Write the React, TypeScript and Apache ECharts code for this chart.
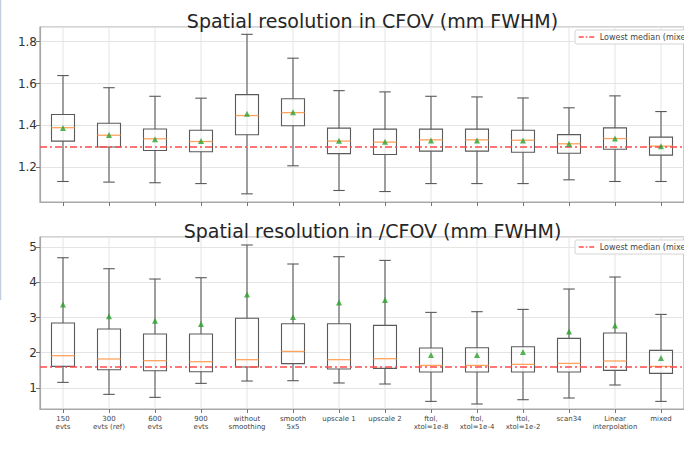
import React, { useEffect, useRef } from "react";
import * as echarts from "echarts";

const categories = [
  "150\nevts", "300\nevts (ref)", "600\nevts", "900\nevts", "without\nsmoothing", "smooth\n5x5",
  "upscale 1", "upscale 2", "ftol,\nxtol=1e-8", "ftol,\nxtol=1e-4", "ftol,\nxtol=1e-2", "scan34",
  "Linear\ninterpolation", "mixed",
];

const topTitle = "Spatial resolution in CFOV (mm FWHM)";
const bottomTitle = "Spatial resolution in /CFOV (mm FWHM)";
const legendName = "Lowest median (mixed)";

const topMin = [1.132, 1.129, 1.126, 1.122, 1.073, 1.207, 1.089, 1.084, 1.122, 1.122, 1.122, 1.140, 1.132, 1.132];
const topQ1 = [1.325, 1.297, 1.280, 1.274, 1.355, 1.398, 1.265, 1.261, 1.277, 1.277, 1.272, 1.267, 1.286, 1.258];
const topMedian = [1.389, 1.353, 1.336, 1.323, 1.447, 1.461, 1.325, 1.320, 1.331, 1.331, 1.329, 1.312, 1.337, 1.301];
const topQ3 = [1.452, 1.410, 1.383, 1.377, 1.547, 1.527, 1.387, 1.382, 1.382, 1.382, 1.377, 1.356, 1.388, 1.344];
const topMax = [1.638, 1.580, 1.539, 1.530, 1.835, 1.721, 1.566, 1.560, 1.539, 1.536, 1.531, 1.484, 1.541, 1.466];
const topMean = [1.387, 1.354, 1.334, 1.325, 1.456, 1.463, 1.327, 1.322, 1.328, 1.328, 1.328, 1.312, 1.337, 1.300];

const botMin = [1.159, 0.819, 0.734, 1.131, 1.198, 1.207, 1.142, 1.113, 0.620, 0.546, 0.668, 0.716, 1.085, 0.620];
const botQ1 = [1.613, 1.519, 1.491, 1.462, 1.596, 1.690, 1.539, 1.556, 1.454, 1.454, 1.454, 1.454, 1.500, 1.414];
const botMedian = [1.916, 1.823, 1.775, 1.746, 1.803, 2.038, 1.803, 1.831, 1.641, 1.641, 1.670, 1.698, 1.766, 1.612];
const botQ3 = [2.844, 2.674, 2.532, 2.532, 2.977, 2.824, 2.824, 2.776, 2.135, 2.143, 2.172, 2.408, 2.560, 2.067];
const botMax = [4.696, 4.384, 4.092, 4.129, 5.057, 4.518, 4.725, 4.620, 3.145, 3.165, 3.230, 3.808, 4.149, 3.088];
const botMean = [3.372, 3.032, 2.909, 2.815, 3.655, 3.014, 3.428, 3.496, 1.936, 1.936, 2.021, 2.606, 2.776, 1.851];

const topYRange = [1.034, 1.870];
const botYRange = [0.404, 5.284];

const FONT = "DejaVu Sans";
const BOX_COLOR = "#5a5a5a";
const MEDIAN_COLOR = "#ffa35c";
const MEAN_COLOR = "#2ca02c";
const RED = "#ff4a4a";
const GRID_COLOR = "#e4e4e4";
const FRAME_COLOR = "#a8a8a8";

function boxRenderItem(params: any, api: any) {
  const i = api.value(0);
  const band = api.size([1, 0])[0];
  const bw = band * 0.5;
  const cap = bw * 0.5;
  const cx = api.coord([i, api.value(1)])[0];
  const yMin = api.coord([i, api.value(1)])[1];
  const yQ1 = api.coord([i, api.value(2)])[1];
  const yMed = api.coord([i, api.value(3)])[1];
  const yQ3 = api.coord([i, api.value(4)])[1];
  const yMax = api.coord([i, api.value(5)])[1];
  const cs = params.coordSys;
  const st = { stroke: BOX_COLOR, lineWidth: 1.1, fill: null };
  return {
    type: "group",
    children: [
      { type: "line", shape: { x1: cx, y1: cs.y, x2: cx, y2: cs.y + cs.height }, style: { stroke: GRID_COLOR, lineWidth: 1 } },
      { type: "line", shape: { x1: cx, y1: yMin, x2: cx, y2: yQ1 }, style: st },
      { type: "line", shape: { x1: cx, y1: yQ3, x2: cx, y2: yMax }, style: st },
      { type: "line", shape: { x1: cx - cap / 2, y1: yMin, x2: cx + cap / 2, y2: yMin }, style: st },
      { type: "line", shape: { x1: cx - cap / 2, y1: yMax, x2: cx + cap / 2, y2: yMax }, style: st },
      { type: "rect", shape: { x: cx - bw / 2, y: yQ3, width: bw, height: yQ1 - yQ3 }, style: { stroke: BOX_COLOR, lineWidth: 1.1, fill: "none" } },
      { type: "line", shape: { x1: cx - bw / 2, y1: yMed, x2: cx + bw / 2, y2: yMed }, style: { stroke: MEDIAN_COLOR, lineWidth: 1.3 } },
    ],
  };
}

function makeBoxData(mn: number[], q1: number[], md: number[], q3: number[], mx: number[]) {
  return categories.map((_, i) => [i, mn[i], q1[i], md[i], q3[i], mx[i]]);
}

export default function App() {
  const ref = useRef<HTMLDivElement>(null);
  useEffect(() => {
    if (!ref.current) return;
    const chart = echarts.init(ref.current, null, { renderer: "svg" });
    const topLowest = Math.min(...topMedian);
    const botLowest = Math.min(...botMedian);
    const gridCommon = { left: 40, width: 655, show: true, borderColor: FRAME_COLOR, borderWidth: 1.2, backgroundColor: "transparent" };
    const xAxisCommon = (gi: number, showLabels: boolean) => ({
      type: "category",
      gridIndex: gi,
      data: categories,
      boundaryGap: true,
      axisLine: { show: true, lineStyle: { color: FRAME_COLOR, width: 1.2 } },
      axisTick: { show: true, alignWithLabel: true, length: 4, lineStyle: { color: "#777" } },
      axisLabel: {
        show: showLabels,
        interval: 0,
        fontFamily: FONT,
        fontSize: 7,
        lineHeight: 8,
        color: "#444",
        margin: 6,
        verticalAlign: "top",
      },
      splitLine: { show: false },
    });
    const yAxisCommon = (gi: number, range: number[]) => ({
      type: "value",
      gridIndex: gi,
      min: range[0],
      max: range[1],
      splitNumber: 5,
      axisLine: { show: true, lineStyle: { color: FRAME_COLOR, width: 1.2 } },
      axisTick: { show: true, length: 4, lineStyle: { color: "#777" } },
      axisLabel: {
        fontFamily: FONT,
        fontSize: 12,
        color: "#333",
        margin: 3,
        showMinLabel: false,
        showMaxLabel: false,
        formatter: (v: number) => (range[1] < 2 ? v.toFixed(1) : String(Math.round(v))),
      },
      splitLine: { show: true, lineStyle: { color: GRID_COLOR, width: 1 } },
    });
    const legendCommon = {
      data: [{ name: legendName }],
      left: 575,
      itemWidth: 16,
      itemHeight: 8,
      itemGap: 4,
      padding: [3, 4, 3, 3],
      backgroundColor: "#fff",
      borderColor: "#d4d4d4",
      borderWidth: 1,
      borderRadius: 2,
      itemStyle: { opacity: 0, color: "transparent", borderWidth: 0 },
      lineStyle: { color: RED, width: 1.5, type: [5, 2, 1.5, 2] },
      textStyle: { fontFamily: FONT, fontSize: 8, color: "#444" },
    };
    const redLineSeries = (gi: number, value: number) => ({
      type: "line",
      name: legendName,
      xAxisIndex: gi,
      yAxisIndex: gi,
      data: [],
      symbol: "none",
      lineStyle: { color: RED, width: 1.5, type: [7, 3, 2, 3] },
      itemStyle: { color: RED },
      markLine: {
        silent: true,
        symbol: "none",
        label: { show: false },
        lineStyle: { color: RED, width: 1.5, type: [7, 3, 2, 3] },
        data: [{ yAxis: value }],
      },
      z: 5,
    });
    const option: any = {
      animation: false,
      backgroundColor: "#fff",
      title: [
        { text: topTitle, left: 367.5, textAlign: "center", top: 6, textStyle: { fontFamily: FONT, fontSize: 19, fontWeight: "normal", color: "#262626", lineHeight: 19 } },
        { text: bottomTitle, left: 367.5, textAlign: "center", top: 216, textStyle: { fontFamily: FONT, fontSize: 19, fontWeight: "normal", color: "#262626", lineHeight: 19 } },
      ],
      legend: [
        { ...legendCommon, top: 30 },
        { ...legendCommon, top: 240 },
      ],
      grid: [
        { ...gridCommon, top: 27, height: 175 },
        { ...gridCommon, top: 237, height: 172 },
      ],
      xAxis: [xAxisCommon(0, false), xAxisCommon(1, true)],
      yAxis: [yAxisCommon(0, topYRange), yAxisCommon(1, botYRange)],
      series: [
        {
          type: "custom",
          xAxisIndex: 0,
          yAxisIndex: 0,
          renderItem: boxRenderItem,
          encode: { x: 0, y: [1, 2, 3, 4, 5] },
          data: makeBoxData(topMin, topQ1, topMedian, topQ3, topMax),
          z: 2,
        },
        {
          type: "custom",
          xAxisIndex: 1,
          yAxisIndex: 1,
          renderItem: boxRenderItem,
          encode: { x: 0, y: [1, 2, 3, 4, 5] },
          data: makeBoxData(botMin, botQ1, botMedian, botQ3, botMax),
          z: 2,
        },
        redLineSeries(0, topLowest),
        redLineSeries(1, botLowest),
        {
          type: "scatter",
          name: "mean top",
          xAxisIndex: 0,
          yAxisIndex: 0,
          symbol: "triangle",
          symbolSize: 6,
          itemStyle: { color: MEAN_COLOR },
          data: topMean.map((v, i) => [i, v]),
          z: 6,
        },
        {
          type: "scatter",
          name: "mean bottom",
          xAxisIndex: 1,
          yAxisIndex: 1,
          symbol: "triangle",
          symbolSize: 6,
          itemStyle: { color: MEAN_COLOR },
          data: botMean.map((v, i) => [i, v]),
          z: 6,
        },
      ],
      graphic: [
        { type: "line", shape: { x1: 0.5, y1: 0, x2: 0.5, y2: 300 }, style: { stroke: "#c3d0dc", lineWidth: 1.5 } },
      ],
    };
    chart.setOption(option);
    return () => chart.dispose();
  }, []);
  return (
    <div style={{ position: "absolute", left: 0, top: 0, width: 684, height: 458, background: "#fff", overflow: "hidden" }}>
      <div ref={ref} style={{ width: 684, height: 458 }} />
    </div>
  );
}
